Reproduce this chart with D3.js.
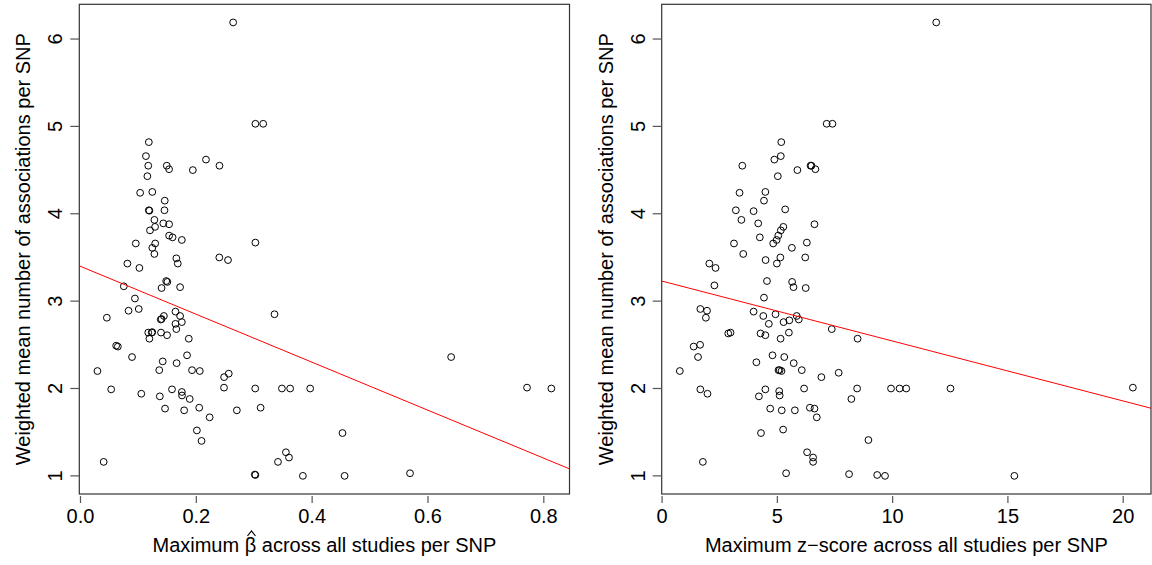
<!DOCTYPE html>
<html>
<head>
<meta charset="utf-8">
<script src="https://cdn.jsdelivr.net/npm/d3@7"></script>
<style>
  html, body { margin: 0; padding: 0; background: #fff; }
  svg { display: block; }
  text { font-family: "Liberation Sans", Arial, Helvetica, sans-serif; fill: #000; }
</style>
</head>
<body>
<svg id="chart" width="1152" height="565"></svg>
<script>
// ---- Data ----
const yTicks = [1, 2, 3, 4, 5, 6];
const betaTicks = [0.0, 0.2, 0.4, 0.6, 0.8];
const zTicks = [0, 5, 10, 15, 20];
const yTitle = "Weighted mean number of associations per SNP";
const betaTitle = "Maximum \u03B2 across all studies per SNP";
const zTitle = "Maximum z\u2212score across all studies per SNP";

// Left panel: maximum beta-hat vs weighted mean number of associations
const betaX = [0.2636,0.302,0.3155,0.118,0.113,0.117,0.149,0.153,0.194,0.2167,0.24,0.1155,0.103,0.124,0.1455,0.118,0.119,0.145,0.1276,0.143,0.153,0.1288,0.120,0.153,0.159,0.175,0.302,0.0955,0.129,0.124,0.1276,0.1655,0.168,0.2397,0.2547,0.081,0.1017,0.148,0.150,0.140,0.172,0.0748,0.094,0.083,0.1006,0.0455,0.1386,0.140,0.144,0.164,0.172,0.164,0.175,0.1655,0.117,0.123,0.124,0.119,0.139,0.1495,0.187,0.0616,0.0645,0.089,0.142,0.166,0.184,0.136,0.1926,0.206,0.0293,0.248,0.256,0.2478,0.053,0.158,0.3017,0.3478,0.362,0.105,0.137,0.175,0.1753,0.1886,0.146,0.179,0.205,0.270,0.311,0.223,0.201,0.209,0.040,0.301,0.302,0.341,0.3547,0.360,0.640,0.771,0.813,0.3966,0.4524,0.384,0.456,0.569,0.335];
const betaY = [6.19,5.03,5.03,4.82,4.66,4.55,4.55,4.51,4.50,4.62,4.55,4.43,4.24,4.25,4.15,4.04,4.035,4.04,3.93,3.89,3.88,3.85,3.81,3.75,3.73,3.70,3.67,3.66,3.66,3.61,3.54,3.49,3.43,3.50,3.47,3.43,3.38,3.23,3.22,3.15,3.16,3.17,3.03,2.89,2.91,2.81,2.79,2.795,2.83,2.88,2.83,2.74,2.76,2.68,2.64,2.64,2.645,2.57,2.64,2.61,2.57,2.49,2.48,2.36,2.31,2.29,2.38,2.21,2.21,2.20,2.20,2.13,2.17,2.01,1.99,1.99,2.00,2.00,2.00,1.94,1.91,1.96,1.92,1.88,1.77,1.75,1.78,1.75,1.78,1.67,1.52,1.40,1.16,1.015,1.01,1.16,1.27,1.21,2.36,2.01,2.00,2.00,1.49,1.00,1.00,1.03,2.85];

// Right panel: maximum z-score vs weighted mean number of associations
const zX = [11.89,7.14,7.39,5.17,5.15,4.87,3.48,5.87,6.44,6.48,6.65,5.02,3.36,4.48,4.42,3.20,3.97,5.34,3.44,4.17,6.61,4.24,4.82,4.97,5.04,5.15,5.26,3.12,5.63,6.28,3.52,4.49,5.13,4.98,6.21,2.05,2.32,2.27,4.55,5.64,5.70,6.23,4.42,1.66,1.95,1.90,3.97,4.39,4.92,4.63,5.27,5.52,5.84,5.93,7.36,8.48,2.87,2.97,4.27,4.48,5.14,5.50,1.37,1.65,1.56,4.79,5.30,4.09,5.71,0.77,5.05,5.10,5.18,6.06,6.91,7.66,1.66,1.97,4.48,4.20,5.08,5.10,6.16,8.46,8.21,4.69,5.19,5.76,6.41,6.61,6.71,4.29,5.25,6.29,6.55,6.55,1.77,5.38,8.11,8.95,9.33,9.67,9.93,10.30,10.59,12.51,20.42,15.28];
const zY = [6.19,5.03,5.03,4.82,4.66,4.62,4.55,4.50,4.55,4.55,4.51,4.43,4.24,4.25,4.15,4.04,4.03,4.05,3.93,3.89,3.88,3.73,3.66,3.70,3.75,3.81,3.85,3.66,3.61,3.67,3.54,3.47,3.50,3.43,3.50,3.43,3.38,3.18,3.23,3.22,3.16,3.15,3.04,2.91,2.89,2.81,2.88,2.83,2.85,2.74,2.76,2.78,2.83,2.79,2.68,2.57,2.63,2.64,2.63,2.61,2.57,2.64,2.48,2.50,2.36,2.38,2.36,2.30,2.29,2.20,2.21,2.21,2.20,2.21,2.13,2.18,1.99,1.94,1.99,1.91,1.97,1.92,2.00,2.00,1.88,1.77,1.75,1.75,1.78,1.77,1.67,1.49,1.53,1.27,1.21,1.16,1.16,1.03,1.02,1.41,1.01,1.00,2.00,2.00,2.00,2.00,2.01,1.00];

// Fitted regression lines: [intercept, slope]
const betaFit = [3.398, -2.745];
const zFit = [3.229, -0.0686];

// ---- Drawing ----
const svg = d3.select("#chart");
const FONT = 20;

function rExpand(ext) {
  const r = ext[1] - ext[0];
  return [ext[0] - 0.04 * r, ext[1] + 0.04 * r];
}

function panel(box, xs, ys, xTicks, xFmt, fit, xTitle, hatIndex) {
  const x = d3.scaleLinear().domain(rExpand(d3.extent(xs))).range([box.l, box.r]);
  const y = d3.scaleLinear().domain(rExpand(d3.extent(ys))).range([box.b, box.t]);
  const g = svg.append("g");
  const id = "clip" + Math.round(box.l);
  svg.append("clipPath").attr("id", id).append("rect")
    .attr("x", box.l).attr("y", box.t).attr("width", box.r - box.l).attr("height", box.b - box.t);

  // points
  g.append("g").selectAll("circle").data(xs.map((v, i) => [v, ys[i]])).join("circle")
    .attr("cx", d => x(d[0])).attr("cy", d => y(d[1])).attr("r", 3.4)
    .attr("fill", "none").attr("stroke", "#000").attr("stroke-width", 1);

  // regression line
  const xd = x.domain();
  g.append("line").attr("clip-path", `url(#${id})`)
    .attr("x1", x(xd[0])).attr("y1", y(fit[0] + fit[1] * xd[0]))
    .attr("x2", x(xd[1])).attr("y2", y(fit[0] + fit[1] * xd[1]))
    .attr("stroke", "#ff0000").attr("stroke-width", 1);

  // box
  g.append("rect").attr("x", box.l).attr("y", box.t)
    .attr("width", box.r - box.l).attr("height", box.b - box.t)
    .attr("fill", "none").attr("stroke", "#333").attr("stroke-width", 1.2);

  // x ticks
  g.append("g").selectAll("line").data(xTicks).join("line")
    .attr("x1", d => x(d)).attr("x2", d => x(d))
    .attr("y1", box.b + 2).attr("y2", box.b + 9)
    .attr("stroke", "#555").attr("stroke-width", 1.2);
  g.append("g").selectAll("text").data(xTicks).join("text")
    .attr("x", d => x(d)).attr("y", box.b + 29)
    .attr("text-anchor", "middle").attr("font-size", FONT)
    .text(xFmt);

  // y ticks
  g.append("g").selectAll("line").data(yTicks).join("line")
    .attr("x1", box.l - 9).attr("x2", box.l)
    .attr("y1", d => y(d)).attr("y2", d => y(d))
    .attr("stroke", "#555").attr("stroke-width", 1.2);
  g.append("g").selectAll("text").data(yTicks).join("text")
    .attr("transform", d => `translate(${box.l - 17},${y(d)}) rotate(-90)`)
    .attr("text-anchor", "middle").attr("font-size", FONT)
    .text(d => d);

  // y title
  g.append("text")
    .attr("transform", `translate(${box.l - 49},${(box.t + box.b) / 2}) rotate(-90)`)
    .attr("text-anchor", "middle").attr("font-size", FONT)
    .text(yTitle);

  // x title
  const xt = g.append("text")
    .attr("x", (box.l + box.r) / 2).attr("y", box.b + 58)
    .attr("text-anchor", "middle").attr("font-size", FONT)
    .text(xTitle);

  // hat over beta
  if (hatIndex != null) {
    const ext = xt.node().getExtentOfChar(hatIndex);
    const cx = ext.x + ext.width / 2 + 1;
    const top = ext.y - 3;
    g.append("path")
      .attr("d", d3.line()([[cx - 4, top + 5], [cx, top], [cx + 4, top + 5]]))
      .attr("fill", "none").attr("stroke", "#000").attr("stroke-width", 1.2);
  }
}

panel({l: 79.3, r: 569.5, t: 4.3, b: 494}, betaX, betaY, betaTicks, d3.format(".1f"), betaFit,
  betaTitle, betaTitle.indexOf("\u03B2"));
panel({l: 661.7, r: 1151, t: 4.3, b: 494}, zX, zY, zTicks, d3.format("d"), zFit,
  zTitle, null);
</script>
</body>
</html>
